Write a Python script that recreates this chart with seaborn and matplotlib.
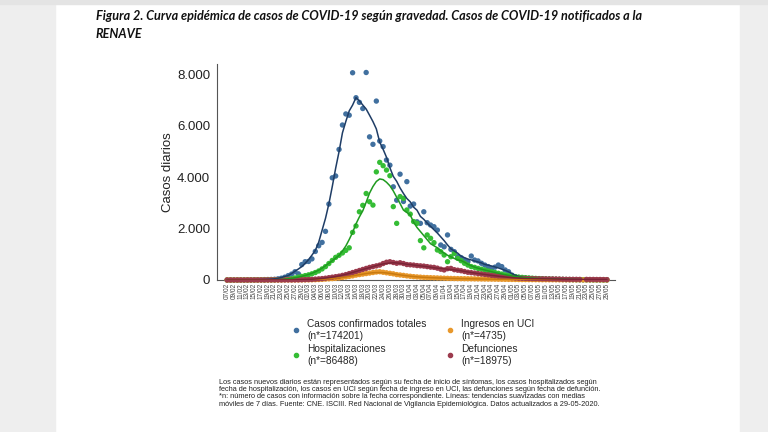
import numpy as np
import pandas as pd
import matplotlib
matplotlib.use('Agg')
import matplotlib.pyplot as plt
from matplotlib.patches import Rectangle
from matplotlib.lines import Line2D
from matplotlib import font_manager
import seaborn as sns

# Casos diarios por fecha (07/02 a 29/05/2020)
fechas = pd.date_range('2020-02-07', '2020-05-29', freq='D')

casos_totales = [1, 2, 2, 3, 3, 4, 5, 6, 8, 10,
                 12, 15, 18, 22, 28, 45, 70, 110, 170, 230,
                 320, 240, 600, 710, 720, 820, 1110, 1330, 1460, 1890,
                 2950, 3970, 4040, 5070, 6020, 6450, 6400, 8050, 7080, 6900,
                 6660, 8060, 5560, 5270, 6950, 5400, 5180, 4660, 4460, 3620,
                 3100, 4110, 3050, 3820, 2870, 2950, 2260, 2200, 2650, 2225,
                 2135, 2070, 1940, 1360, 1290, 1750, 1190, 1100, 905, 870,
                 775, 710, 930, 775, 740, 650, 580, 520, 450, 500,
                 580, 520, 390, 320, 190, 130, 100, 80, 70, 60,
                 50, 45, 40, 35, 30, 28, 25, 22, 20, 18,
                 16, 14, 12, 11, 10, 9, 8, 7, 6, 5,
                 5, 4, 3]

hospitalizaciones = [0, 0, 0, 0, 0, 1, 1, 1, 2, 2,
                     3, 3, 4, 5, 6, 10, 15, 25, 35, 50,
                     80, 110, 140, 170, 200, 240, 290, 350, 430, 520,
                     640, 760, 880, 960, 1050, 1150, 1250, 1850, 2100, 2650,
                     2900, 3360, 3040, 2910, 4200, 4570, 4440, 4270, 4050,
                     2850, 2200, 3240, 3170, 2720, 2560, 2270, 2200, 1530, 1250, 1750,
                     1620, 1450, 1165, 1100, 970, 710, 905, 1035, 840, 750,
                     650, 580, 520, 490, 450, 420, 390, 350, 320, 290,
                     260, 230, 200, 175, 155, 130, 110, 100, 90, 80,
                     70, 62, 55, 48, 42, 38, 34, 30, 27, 24,
                     21, 19, 17, 15, 13, 12, 11, 10, 9, 8,
                     7, 6, 5]

ingresos_uci = [0, 0, 0, 0, 0, 0, 0, 0, 0, 0,
                0, 0, 0, 1, 1, 1, 1, 2, 2, 2,
                3, 3, 4, 5, 6, 8, 12, 18, 25, 35,
                45, 55, 65, 80, 100, 120, 140, 160, 190, 210,
                230, 250, 270, 290, 310, 320, 300, 280, 260, 240,
                210, 195, 180, 160, 145, 130, 120, 110, 100, 95,
                90, 85, 80, 75, 70, 65, 60, 57, 54, 52,
                50, 48, 46, 44, 42, 40, 38, 36, 34, 32,
                30, 28, 26, 24, 22, 20, 18, 16, 15, 14,
                13, 12, 11, 10, 10, 9, 9, 8, 8, 7,
                7, 6, 6, 5, 5, 5, 4, 4, 4, 3,
                3, 3, 2]

defunciones = [0, 0, 0, 0, 0, 0, 1, 1, 1, 1,
               1, 1, 2, 2, 2, 3, 3, 3, 4, 4,
               5, 8, 10, 15, 20, 25, 35, 45, 55, 70,
               90, 110, 130, 150, 180, 210, 250, 290, 330, 370,
               410, 450, 490, 520, 550, 580, 640, 690, 710, 680,
               650, 670, 640, 600, 590, 580, 560, 550, 540, 520,
               500, 490, 460, 420, 390, 440, 450, 400, 380, 360,
               330, 300, 285, 270, 250, 233, 215, 200, 180, 165,
               145, 130, 115, 100, 90, 78, 70, 65, 60, 55,
               52, 50, 48, 46, 44, 42, 40, 38, 35, 30,
               26, 26, 25, 25, 24, np.nan, 23, 22, 22, 20,
               20, 18, 15]

series = ['Casos confirmados totales', 'Hospitalizaciones', 'Ingresos en UCI', 'Defunciones']
etiquetas = ['Casos confirmados totales\n(n*=174201)', 'Hospitalizaciones\n(n*=86488)',
             'Ingresos en UCI\n(n*=4735)', 'Defunciones\n(n*=18975)']
color_punto = {'Casos confirmados totales': '#41709f', 'Hospitalizaciones': '#35bd35',
               'Ingresos en UCI': '#e8982c', 'Defunciones': '#9c3b4e'}
color_linea = {'Casos confirmados totales': '#1f3d66', 'Hospitalizaciones': '#1f9a1f',
               'Ingresos en UCI': '#c87a10', 'Defunciones': '#7a2436'}

dia = np.arange(len(fechas))
df = pd.DataFrame({'dia': dia, series[0]: casos_totales, series[1]: hospitalizaciones,
                   series[2]: ingresos_uci, series[3]: defunciones})
largo = df.melt(id_vars='dia', var_name='serie', value_name='casos')

# medias moviles de 7 dias
suav = df.set_index('dia')[series].rolling(7, center=True, min_periods=1).mean().reset_index()
suav_largo = suav.melt(id_vars='dia', var_name='serie', value_name='casos')

sns.set_style('white')
nombres = {f.name for f in font_manager.fontManager.ttflist}
plt.rcParams['font.family'] = ['Liberation Sans', 'DejaVu Sans']

fig = plt.figure(figsize=(7.68, 4.32), dpi=100)
fig.patches.append(Rectangle((0, 0), 55 / 768, 1, transform=fig.transFigure, color='#eeeeee', zorder=0))
fig.patches.append(Rectangle((740 / 768, 0), 28 / 768, 1, transform=fig.transFigure, color='#eeeeee', zorder=0))
fig.patches.append(Rectangle((0, 1 - 4 / 432), 1, 4 / 432, transform=fig.transFigure, color='#e4e4e4', zorder=0))

ax = fig.add_axes([217 / 768, 1 - 280 / 432, 398 / 768, 216 / 432])

for s in series:
    sub = largo[largo['serie'] == s]
    sns.scatterplot(data=sub, x='dia', y='casos', color=color_punto[s], s=15,
                    edgecolor='none', ax=ax, clip_on=False, legend=False, zorder=3)
for s in series:
    sub = suav_largo[suav_largo['serie'] == s]
    sns.lineplot(data=sub, x='dia', y='casos', color=color_linea[s], lw=1.1,
                 ax=ax, legend=False, zorder=4)

ax.set_xlim(-3, 114.4)
ax.set_ylim(0, 8390)
ax.set_yticks([0, 2000, 4000, 6000, 8000])
ax.set_yticklabels(['0', '2.000', '4.000', '6.000', '8.000'], fontsize=9.5, color='#222222')
ax.set_xticks(dia[::2])
ax.set_xticklabels(fechas[::2].strftime('%d/%m'), rotation=90, fontsize=4.7, color='#444444')
ax.tick_params(axis='x', length=0, pad=2)
ax.tick_params(axis='y', length=3, width=0.7, color='#555555', pad=2)
ax.set_xlabel('')
ax.set_ylabel('Casos diarios', fontsize=9.5, color='#222222', labelpad=2)
sns.despine(ax=ax)
for lado in ['left', 'bottom']:
    ax.spines[lado].set_color('#555555')
    ax.spines[lado].set_linewidth(0.8)

manejadores = [Line2D([], [], marker='o', ls='none', color=color_punto[s], markersize=3) for s in series]
fig.legend(manejadores, etiquetas, loc='upper left', bbox_to_anchor=(286 / 768, 1 - 314 / 432),
           ncol=2, frameon=False, fontsize=7.3, handletextpad=0.6, columnspacing=1.8,
           labelspacing=0.35, handlelength=1.0, borderpad=0)

nota = ('Los casos nuevos diarios están representados según su fecha de inicio de síntomas, los casos hospitalizados según\n'
        'fecha de hospitalización, los casos en UCI según fecha de ingreso en UCI, las defunciones según fecha de defunción.\n'
        '*n: número de casos con información sobre la fecha correspondiente. Líneas: tendencias suavizadas con medias\n'
        'móviles de 7 días. Fuente: CNE. ISCIII. Red Nacional de Vigilancia Epidemiológica. Datos actualizados a 29-05-2020.')
fig.text(219 / 768, 1 - 379 / 432, nota, fontsize=5.35, va='top', ha='left', color='#222222', linespacing=1.05)

fuente_titulo = 'Liberation Sans Narrow' if 'Liberation Sans Narrow' in nombres else 'Lato'
titulo = ('Figura 2. Curva epidémica de casos de COVID-19 según gravedad. Casos de COVID-19 notificados a la\n'
          'RENAVE')
fig.text(96 / 768, 1 - 10 / 432, titulo, fontsize=9.1, fontweight='bold', fontstyle='italic',
         family=[fuente_titulo, 'DejaVu Sans'], va='top', ha='left', color='#111111', linespacing=1.6)

fig.savefig('out.png', dpi=100)
